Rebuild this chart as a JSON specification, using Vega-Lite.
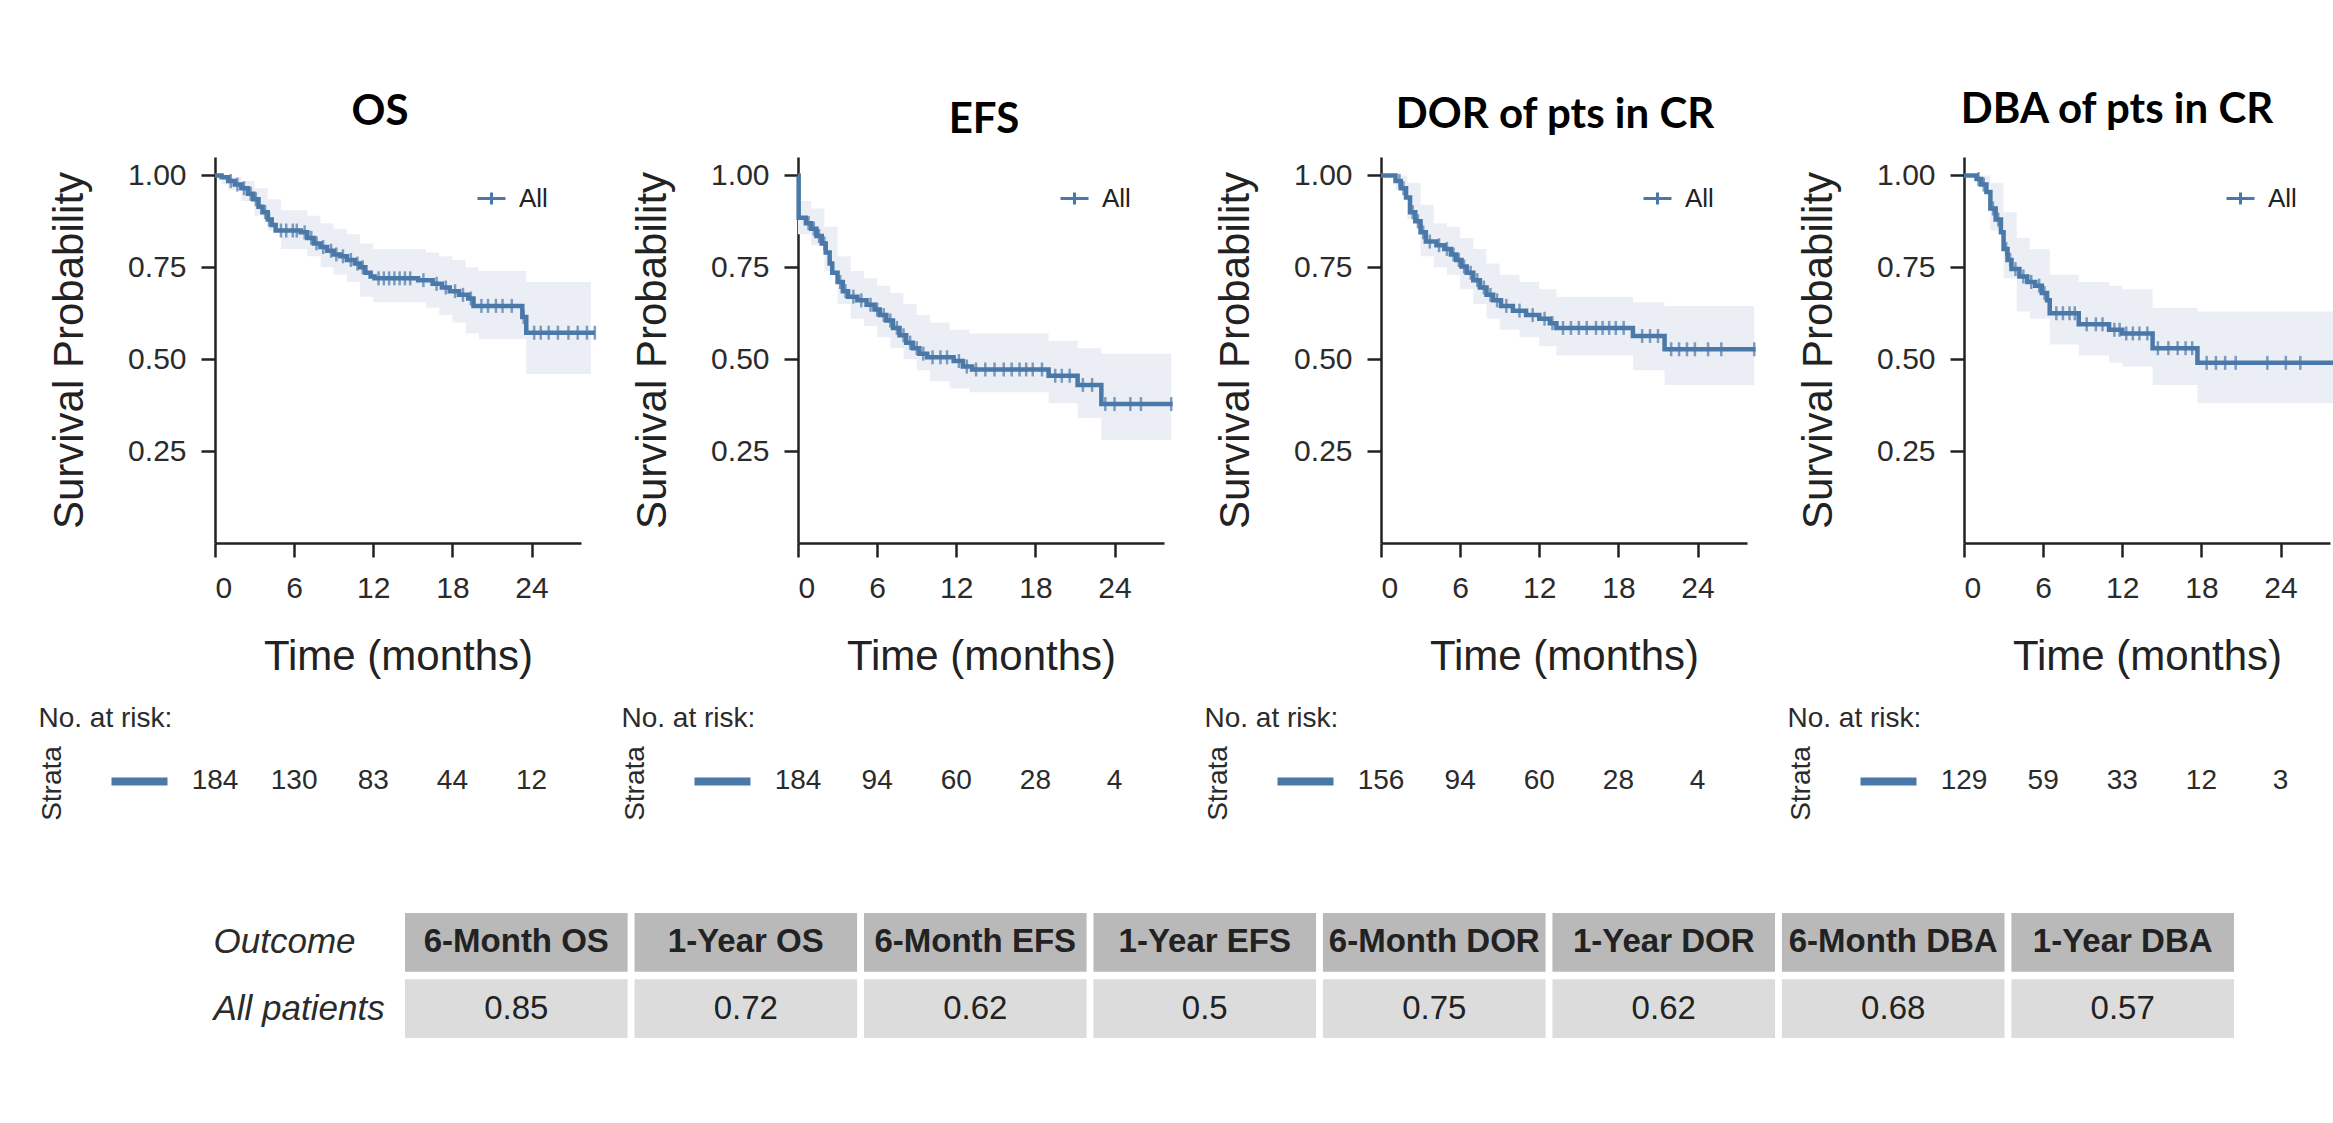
{
  "$schema": "https://vega.github.io/schema/vega-lite/v6.json",
  "background": "white",
  "padding": {"left": 38, "top": 89, "right": 0, "bottom": 40},
  "config": {
    "view": {"stroke": null},
    "font": "Liberation Sans",
    "axis": {"grid": false, "domainColor": "#222222", "domainWidth": 2.5, "tickColor": "#222222", "tickWidth": 2.5, "tickSize": 14, "labelFont": "Liberation Sans", "labelFontSize": 30, "labelColor": "#2b2b2b", "titleFont": "Liberation Sans", "titleFontSize": 42, "titleFontWeight": "normal", "titleColor": "#222222"},
    "title": {"font": "Lato", "fontSize": 42, "fontWeight": "bold", "color": "#000000", "anchor": "middle", "frame": "group", "baseline": "alphabetic"}
  },
  "datasets": {
    "curves": [
      {"p":"OS","t":0,"s":1.0},{"p":"OS","t":0.5,"s":0.995},{"p":"OS","t":1.0,"s":0.985},{"p":"OS","t":1.5,"s":0.975},{"p":"OS","t":2.0,"s":0.965},{"p":"OS","t":2.5,"s":0.95},{"p":"OS","t":2.9,"s":0.935},{"p":"OS","t":3.3,"s":0.915},{"p":"OS","t":3.6,"s":0.9},{"p":"OS","t":4.0,"s":0.88},{"p":"OS","t":4.3,"s":0.865},{"p":"OS","t":4.6,"s":0.85},{"p":"OS","t":6.5,"s":0.845},{"p":"OS","t":7.0,"s":0.83},{"p":"OS","t":7.5,"s":0.815},{"p":"OS","t":8.0,"s":0.805},{"p":"OS","t":8.5,"s":0.795},{"p":"OS","t":9.0,"s":0.785},{"p":"OS","t":9.5,"s":0.78},{"p":"OS","t":10.0,"s":0.77},{"p":"OS","t":10.6,"s":0.76},{"p":"OS","t":11.0,"s":0.75},{"p":"OS","t":11.4,"s":0.735},{"p":"OS","t":11.8,"s":0.725},{"p":"OS","t":12.1,"s":0.72},{"p":"OS","t":15.4,"s":0.715},{"p":"OS","t":16.5,"s":0.705},{"p":"OS","t":17.2,"s":0.695},{"p":"OS","t":17.8,"s":0.685},{"p":"OS","t":18.5,"s":0.675},{"p":"OS","t":19.2,"s":0.665},{"p":"OS","t":19.6,"s":0.645},{"p":"OS","t":23.3,"s":0.615},{"p":"OS","t":23.6,"s":0.572},{"p":"OS","t":28.8,"s":0.572},
      {"p":"EFS","t":0,"s":1.0},{"p":"EFS","t":0.05,"s":0.885},{"p":"EFS","t":0.6,"s":0.87},{"p":"EFS","t":1.0,"s":0.855},{"p":"EFS","t":1.4,"s":0.835},{"p":"EFS","t":1.8,"s":0.815},{"p":"EFS","t":2.1,"s":0.79},{"p":"EFS","t":2.4,"s":0.76},{"p":"EFS","t":2.6,"s":0.735},{"p":"EFS","t":3.0,"s":0.71},{"p":"EFS","t":3.4,"s":0.685},{"p":"EFS","t":3.8,"s":0.67},{"p":"EFS","t":4.5,"s":0.66},{"p":"EFS","t":5.2,"s":0.648},{"p":"EFS","t":5.8,"s":0.635},{"p":"EFS","t":6.2,"s":0.62},{"p":"EFS","t":6.7,"s":0.605},{"p":"EFS","t":7.2,"s":0.585},{"p":"EFS","t":7.7,"s":0.565},{"p":"EFS","t":8.2,"s":0.545},{"p":"EFS","t":8.7,"s":0.53},{"p":"EFS","t":9.2,"s":0.515},{"p":"EFS","t":9.8,"s":0.505},{"p":"EFS","t":11.8,"s":0.495},{"p":"EFS","t":12.5,"s":0.48},{"p":"EFS","t":13.2,"s":0.472},{"p":"EFS","t":19.0,"s":0.455},{"p":"EFS","t":21.2,"s":0.43},{"p":"EFS","t":23.0,"s":0.378},{"p":"EFS","t":28.4,"s":0.378},
      {"p":"DOR","t":0,"s":1.0},{"p":"DOR","t":1.1,"s":0.985},{"p":"DOR","t":1.5,"s":0.965},{"p":"DOR","t":1.9,"s":0.94},{"p":"DOR","t":2.2,"s":0.9},{"p":"DOR","t":2.6,"s":0.875},{"p":"DOR","t":3.0,"s":0.845},{"p":"DOR","t":3.4,"s":0.82},{"p":"DOR","t":4.2,"s":0.81},{"p":"DOR","t":4.8,"s":0.8},{"p":"DOR","t":5.3,"s":0.785},{"p":"DOR","t":5.7,"s":0.77},{"p":"DOR","t":6.1,"s":0.752},{"p":"DOR","t":6.5,"s":0.735},{"p":"DOR","t":7.0,"s":0.715},{"p":"DOR","t":7.5,"s":0.695},{"p":"DOR","t":8.0,"s":0.675},{"p":"DOR","t":8.5,"s":0.66},{"p":"DOR","t":9.1,"s":0.645},{"p":"DOR","t":10.0,"s":0.632},{"p":"DOR","t":11.0,"s":0.62},{"p":"DOR","t":12.0,"s":0.61},{"p":"DOR","t":12.8,"s":0.598},{"p":"DOR","t":13.3,"s":0.585},{"p":"DOR","t":19.1,"s":0.563},{"p":"DOR","t":21.5,"s":0.527},{"p":"DOR","t":28.4,"s":0.527},
      {"p":"DBA","t":0,"s":1.0},{"p":"DBA","t":0.95,"s":0.99},{"p":"DBA","t":1.3,"s":0.975},{"p":"DBA","t":1.7,"s":0.955},{"p":"DBA","t":2.0,"s":0.91},{"p":"DBA","t":2.4,"s":0.88},{"p":"DBA","t":2.8,"s":0.845},{"p":"DBA","t":3.0,"s":0.8},{"p":"DBA","t":3.3,"s":0.77},{"p":"DBA","t":3.6,"s":0.745},{"p":"DBA","t":4.2,"s":0.725},{"p":"DBA","t":4.8,"s":0.71},{"p":"DBA","t":5.4,"s":0.7},{"p":"DBA","t":5.9,"s":0.68},{"p":"DBA","t":6.3,"s":0.66},{"p":"DBA","t":6.5,"s":0.625},{"p":"DBA","t":8.7,"s":0.595},{"p":"DBA","t":11.0,"s":0.58},{"p":"DBA","t":12.0,"s":0.57},{"p":"DBA","t":14.3,"s":0.53},{"p":"DBA","t":17.7,"s":0.49},{"p":"DBA","t":28.8,"s":0.49}
    ],
    "bands": [
      {"p":"OS","t":0,"lo":1.0,"hi":1.0},{"p":"OS","t":0.5,"lo":0.975,"hi":1.0},{"p":"OS","t":1,"lo":0.96,"hi":0.995},{"p":"OS","t":2,"lo":0.93,"hi":0.985},{"p":"OS","t":3,"lo":0.89,"hi":0.965},{"p":"OS","t":4,"lo":0.85,"hi":0.935},{"p":"OS","t":5,"lo":0.8,"hi":0.905},{"p":"OS","t":7,"lo":0.78,"hi":0.89},{"p":"OS","t":8,"lo":0.75,"hi":0.87},{"p":"OS","t":9,"lo":0.73,"hi":0.855},{"p":"OS","t":10,"lo":0.71,"hi":0.84},{"p":"OS","t":11,"lo":0.67,"hi":0.815},{"p":"OS","t":12,"lo":0.655,"hi":0.8},{"p":"OS","t":16,"lo":0.64,"hi":0.79},{"p":"OS","t":17,"lo":0.62,"hi":0.78},{"p":"OS","t":18,"lo":0.6,"hi":0.77},{"p":"OS","t":19,"lo":0.57,"hi":0.75},{"p":"OS","t":20,"lo":0.555,"hi":0.74},{"p":"OS","t":23.6,"lo":0.46,"hi":0.71},{"p":"OS","t":28.5,"lo":0.46,"hi":0.71},
      {"p":"EFS","t":0,"lo":0.84,"hi":0.93},{"p":"EFS","t":1,"lo":0.81,"hi":0.91},{"p":"EFS","t":2,"lo":0.74,"hi":0.86},{"p":"EFS","t":3,"lo":0.65,"hi":0.78},{"p":"EFS","t":4,"lo":0.61,"hi":0.74},{"p":"EFS","t":5,"lo":0.59,"hi":0.72},{"p":"EFS","t":6,"lo":0.56,"hi":0.7},{"p":"EFS","t":7,"lo":0.53,"hi":0.68},{"p":"EFS","t":8,"lo":0.5,"hi":0.65},{"p":"EFS","t":9,"lo":0.47,"hi":0.62},{"p":"EFS","t":10,"lo":0.44,"hi":0.6},{"p":"EFS","t":11.5,"lo":0.42,"hi":0.58},{"p":"EFS","t":13,"lo":0.41,"hi":0.57},{"p":"EFS","t":19,"lo":0.38,"hi":0.55},{"p":"EFS","t":21.2,"lo":0.34,"hi":0.53},{"p":"EFS","t":23,"lo":0.28,"hi":0.515},{"p":"EFS","t":28.3,"lo":0.28,"hi":0.515},
      {"p":"DOR","t":0,"lo":1.0,"hi":1.0},{"p":"DOR","t":1.1,"lo":0.96,"hi":1.0},{"p":"DOR","t":2,"lo":0.88,"hi":0.98},{"p":"DOR","t":3,"lo":0.78,"hi":0.92},{"p":"DOR","t":4,"lo":0.75,"hi":0.87},{"p":"DOR","t":5,"lo":0.73,"hi":0.86},{"p":"DOR","t":6,"lo":0.69,"hi":0.83},{"p":"DOR","t":7,"lo":0.65,"hi":0.8},{"p":"DOR","t":8,"lo":0.61,"hi":0.76},{"p":"DOR","t":9,"lo":0.58,"hi":0.73},{"p":"DOR","t":10.5,"lo":0.56,"hi":0.71},{"p":"DOR","t":12,"lo":0.535,"hi":0.69},{"p":"DOR","t":13.3,"lo":0.51,"hi":0.67},{"p":"DOR","t":19.1,"lo":0.47,"hi":0.655},{"p":"DOR","t":21.5,"lo":0.43,"hi":0.645},{"p":"DOR","t":28.3,"lo":0.43,"hi":0.645},
      {"p":"DBA","t":0,"lo":1.0,"hi":1.0},{"p":"DBA","t":1,"lo":0.97,"hi":1.0},{"p":"DBA","t":2,"lo":0.85,"hi":0.98},{"p":"DBA","t":3,"lo":0.72,"hi":0.9},{"p":"DBA","t":4,"lo":0.63,"hi":0.83},{"p":"DBA","t":5,"lo":0.61,"hi":0.8},{"p":"DBA","t":6.5,"lo":0.54,"hi":0.73},{"p":"DBA","t":8.7,"lo":0.51,"hi":0.71},{"p":"DBA","t":11,"lo":0.49,"hi":0.7},{"p":"DBA","t":12,"lo":0.48,"hi":0.69},{"p":"DBA","t":14.3,"lo":0.43,"hi":0.64},{"p":"DBA","t":17.7,"lo":0.38,"hi":0.63},{"p":"DBA","t":28.8,"lo":0.38,"hi":0.63}
    ],
    "censors": [
      {"p":"OS","t":1.2,"s":0.985},{"p":"OS","t":1.7,"s":0.975},{"p":"OS","t":2.2,"s":0.965},{"p":"OS","t":2.7,"s":0.95},{"p":"OS","t":3.1,"s":0.935},{"p":"OS","t":3.8,"s":0.9},{"p":"OS","t":4.1,"s":0.88},{"p":"OS","t":5.0,"s":0.85},{"p":"OS","t":5.4,"s":0.85},{"p":"OS","t":5.9,"s":0.85},{"p":"OS","t":6.2,"s":0.85},{"p":"OS","t":6.8,"s":0.845},{"p":"OS","t":7.3,"s":0.83},{"p":"OS","t":7.7,"s":0.815},{"p":"OS","t":8.2,"s":0.805},{"p":"OS","t":8.8,"s":0.795},{"p":"OS","t":9.2,"s":0.785},{"p":"OS","t":9.7,"s":0.78},{"p":"OS","t":10.3,"s":0.77},{"p":"OS","t":10.8,"s":0.76},{"p":"OS","t":11.2,"s":0.75},{"p":"OS","t":12.4,"s":0.72},{"p":"OS","t":12.8,"s":0.72},{"p":"OS","t":13.2,"s":0.72},{"p":"OS","t":13.6,"s":0.72},{"p":"OS","t":14.0,"s":0.72},{"p":"OS","t":14.4,"s":0.72},{"p":"OS","t":14.8,"s":0.72},{"p":"OS","t":15.8,"s":0.715},{"p":"OS","t":16.8,"s":0.705},{"p":"OS","t":17.5,"s":0.695},{"p":"OS","t":18.2,"s":0.685},{"p":"OS","t":18.8,"s":0.675},{"p":"OS","t":19.4,"s":0.665},{"p":"OS","t":20.2,"s":0.645},{"p":"OS","t":20.7,"s":0.645},{"p":"OS","t":21.3,"s":0.645},{"p":"OS","t":21.8,"s":0.645},{"p":"OS","t":22.5,"s":0.645},{"p":"OS","t":23.4,"s":0.615},{"p":"OS","t":24.2,"s":0.572},{"p":"OS","t":24.7,"s":0.572},{"p":"OS","t":25.3,"s":0.572},{"p":"OS","t":26.0,"s":0.572},{"p":"OS","t":26.8,"s":0.572},{"p":"OS","t":27.5,"s":0.572},{"p":"OS","t":28.2,"s":0.572},{"p":"OS","t":28.8,"s":0.572},
      {"p":"EFS","t":0.8,"s":0.87},{"p":"EFS","t":1.2,"s":0.855},{"p":"EFS","t":1.6,"s":0.835},{"p":"EFS","t":2.0,"s":0.815},{"p":"EFS","t":3.2,"s":0.71},{"p":"EFS","t":3.6,"s":0.685},{"p":"EFS","t":4.2,"s":0.67},{"p":"EFS","t":4.8,"s":0.66},{"p":"EFS","t":5.5,"s":0.648},{"p":"EFS","t":6.0,"s":0.635},{"p":"EFS","t":6.5,"s":0.62},{"p":"EFS","t":7.0,"s":0.605},{"p":"EFS","t":7.5,"s":0.585},{"p":"EFS","t":8.0,"s":0.565},{"p":"EFS","t":8.5,"s":0.545},{"p":"EFS","t":9.0,"s":0.53},{"p":"EFS","t":9.5,"s":0.515},{"p":"EFS","t":10.2,"s":0.505},{"p":"EFS","t":10.8,"s":0.505},{"p":"EFS","t":11.3,"s":0.505},{"p":"EFS","t":12.2,"s":0.495},{"p":"EFS","t":12.8,"s":0.48},{"p":"EFS","t":13.5,"s":0.472},{"p":"EFS","t":14.2,"s":0.472},{"p":"EFS","t":14.9,"s":0.472},{"p":"EFS","t":15.6,"s":0.472},{"p":"EFS","t":16.2,"s":0.472},{"p":"EFS","t":16.8,"s":0.472},{"p":"EFS","t":17.3,"s":0.472},{"p":"EFS","t":17.8,"s":0.472},{"p":"EFS","t":18.5,"s":0.472},{"p":"EFS","t":19.5,"s":0.455},{"p":"EFS","t":20.0,"s":0.455},{"p":"EFS","t":20.6,"s":0.455},{"p":"EFS","t":21.6,"s":0.43},{"p":"EFS","t":22.3,"s":0.43},{"p":"EFS","t":23.3,"s":0.378},{"p":"EFS","t":24.0,"s":0.378},{"p":"EFS","t":25.2,"s":0.378},{"p":"EFS","t":26.0,"s":0.378},{"p":"EFS","t":28.3,"s":0.378},
      {"p":"DOR","t":1.4,"s":0.985},{"p":"DOR","t":1.7,"s":0.965},{"p":"DOR","t":2.4,"s":0.9},{"p":"DOR","t":2.8,"s":0.875},{"p":"DOR","t":3.2,"s":0.845},{"p":"DOR","t":3.7,"s":0.82},{"p":"DOR","t":4.4,"s":0.81},{"p":"DOR","t":5.0,"s":0.8},{"p":"DOR","t":5.5,"s":0.785},{"p":"DOR","t":5.9,"s":0.77},{"p":"DOR","t":6.3,"s":0.752},{"p":"DOR","t":6.8,"s":0.735},{"p":"DOR","t":7.3,"s":0.715},{"p":"DOR","t":7.8,"s":0.695},{"p":"DOR","t":8.3,"s":0.675},{"p":"DOR","t":8.8,"s":0.66},{"p":"DOR","t":9.5,"s":0.645},{"p":"DOR","t":10.5,"s":0.632},{"p":"DOR","t":11.5,"s":0.62},{"p":"DOR","t":12.4,"s":0.61},{"p":"DOR","t":13.0,"s":0.598},{"p":"DOR","t":13.8,"s":0.585},{"p":"DOR","t":14.4,"s":0.585},{"p":"DOR","t":15.0,"s":0.585},{"p":"DOR","t":15.6,"s":0.585},{"p":"DOR","t":16.3,"s":0.585},{"p":"DOR","t":16.8,"s":0.585},{"p":"DOR","t":17.3,"s":0.585},{"p":"DOR","t":17.8,"s":0.585},{"p":"DOR","t":18.4,"s":0.585},{"p":"DOR","t":19.8,"s":0.563},{"p":"DOR","t":20.4,"s":0.563},{"p":"DOR","t":21.0,"s":0.563},{"p":"DOR","t":22.0,"s":0.527},{"p":"DOR","t":22.6,"s":0.527},{"p":"DOR","t":23.2,"s":0.527},{"p":"DOR","t":23.8,"s":0.527},{"p":"DOR","t":24.8,"s":0.527},{"p":"DOR","t":25.8,"s":0.527},{"p":"DOR","t":28.3,"s":0.527},
      {"p":"DBA","t":1.1,"s":0.99},{"p":"DBA","t":1.5,"s":0.975},{"p":"DBA","t":2.2,"s":0.91},{"p":"DBA","t":2.6,"s":0.88},{"p":"DBA","t":3.2,"s":0.8},{"p":"DBA","t":3.5,"s":0.77},{"p":"DBA","t":3.9,"s":0.745},{"p":"DBA","t":4.5,"s":0.725},{"p":"DBA","t":5.1,"s":0.71},{"p":"DBA","t":5.7,"s":0.7},{"p":"DBA","t":6.1,"s":0.68},{"p":"DBA","t":7.0,"s":0.625},{"p":"DBA","t":7.5,"s":0.625},{"p":"DBA","t":8.0,"s":0.625},{"p":"DBA","t":8.4,"s":0.625},{"p":"DBA","t":9.3,"s":0.595},{"p":"DBA","t":10.0,"s":0.595},{"p":"DBA","t":10.5,"s":0.595},{"p":"DBA","t":11.4,"s":0.58},{"p":"DBA","t":11.8,"s":0.58},{"p":"DBA","t":12.3,"s":0.57},{"p":"DBA","t":12.8,"s":0.57},{"p":"DBA","t":13.3,"s":0.57},{"p":"DBA","t":13.9,"s":0.57},{"p":"DBA","t":14.7,"s":0.53},{"p":"DBA","t":15.5,"s":0.53},{"p":"DBA","t":16.2,"s":0.53},{"p":"DBA","t":16.8,"s":0.53},{"p":"DBA","t":17.3,"s":0.53},{"p":"DBA","t":18.4,"s":0.49},{"p":"DBA","t":19.1,"s":0.49},{"p":"DBA","t":19.8,"s":0.49},{"p":"DBA","t":20.6,"s":0.49},{"p":"DBA","t":23.0,"s":0.49},{"p":"DBA","t":24.4,"s":0.49},{"p":"DBA","t":25.5,"s":0.49}
    ],
    "risk": [
      {"p":"OS","strata":"All","t":0,"n":184},{"p":"OS","strata":"All","t":6,"n":130},{"p":"OS","strata":"All","t":12,"n":83},{"p":"OS","strata":"All","t":18,"n":44},{"p":"OS","strata":"All","t":24,"n":12},
      {"p":"EFS","strata":"All","t":0,"n":184},{"p":"EFS","strata":"All","t":6,"n":94},{"p":"EFS","strata":"All","t":12,"n":60},{"p":"EFS","strata":"All","t":18,"n":28},{"p":"EFS","strata":"All","t":24,"n":4},
      {"p":"DOR","strata":"All","t":0,"n":156},{"p":"DOR","strata":"All","t":6,"n":94},{"p":"DOR","strata":"All","t":12,"n":60},{"p":"DOR","strata":"All","t":18,"n":28},{"p":"DOR","strata":"All","t":24,"n":4},
      {"p":"DBA","strata":"All","t":0,"n":129},{"p":"DBA","strata":"All","t":6,"n":59},{"p":"DBA","strata":"All","t":12,"n":33},{"p":"DBA","strata":"All","t":18,"n":12},{"p":"DBA","strata":"All","t":24,"n":3}
    ],
    "table": [
      {"row":"Outcome","col":"6-Month OS","text":"6-Month OS"},{"row":"Outcome","col":"1-Year OS","text":"1-Year OS"},{"row":"Outcome","col":"6-Month EFS","text":"6-Month EFS"},{"row":"Outcome","col":"1-Year EFS","text":"1-Year EFS"},{"row":"Outcome","col":"6-Month DOR","text":"6-Month DOR"},{"row":"Outcome","col":"1-Year DOR","text":"1-Year DOR"},{"row":"Outcome","col":"6-Month DBA","text":"6-Month DBA"},{"row":"Outcome","col":"1-Year DBA","text":"1-Year DBA"},
      {"row":"All patients","col":"6-Month OS","text":"0.85"},{"row":"All patients","col":"1-Year OS","text":"0.72"},{"row":"All patients","col":"6-Month EFS","text":"0.62"},{"row":"All patients","col":"1-Year EFS","text":"0.5"},{"row":"All patients","col":"6-Month DOR","text":"0.75"},{"row":"All patients","col":"1-Year DOR","text":"0.62"},{"row":"All patients","col":"6-Month DBA","text":"0.68"},{"row":"All patients","col":"1-Year DBA","text":"0.57"}
    ]
  },
  "columns": 4,
  "spacing": {"row": 102, "column": 217},
  "bounds": "flush",
  "align": "each",
  "resolve": {"scale": {"color": "independent"}},
  "concat": [
    {
      "width": 366, "height": 386,
      "title": {"text": "OS", "dx": -18, "offset": 23},
      "layer": [
        {"data": {"name": "bands"}, "transform": [{"filter": "datum.p === 'OS'"}], "mark": {"type": "area", "interpolate": "step-after", "color": "#ebeff5"},
         "encoding": {"x": {"field": "t", "type": "quantitative", "scale": {"domain": [0, 27.75], "nice": false}, "axis": {"title": "Time (months)", "values": [0, 6, 12, 18, 24], "labelPadding": 16, "titlePadding": 33}},
                      "y": {"field": "lo", "type": "quantitative", "scale": {"domain": [0, 1.05], "nice": false}, "axis": {"title": "Survival Probability", "values": [0.25, 0.5, 0.75, 1], "format": ".2f", "labelPadding": 15, "titlePadding": 36}},
                      "y2": {"field": "hi"}}},
        {"data": {"name": "curves"}, "transform": [{"filter": "datum.p === 'OS'"}], "mark": {"type": "line", "interpolate": "step-after", "strokeWidth": 4.5},
         "encoding": {"x": {"field": "t", "type": "quantitative", "axis": {"title": "Time (months)"}}, "y": {"field": "s", "type": "quantitative", "axis": {"title": "Survival Probability"}},
                      "color": {"datum": "All", "type": "nominal", "scale": {"range": ["#4a78a8"]}, "legend": {"orient": "none", "legendX": 261, "legendY": 26, "title": null, "symbolType": "M-1,0H1M0,-0.42V0.42", "symbolSize": 784, "symbolStrokeWidth": 3, "labelFontSize": 26, "labelFont": "Liberation Sans", "labelColor": "#222222", "labelOffset": 12, "padding": 0}}}},
        {"data": {"name": "censors"}, "transform": [{"filter": "datum.p === 'OS'"}], "mark": {"type": "tick", "orient": "vertical", "size": 14, "thickness": 2.5, "color": "#4a78a8"},
         "encoding": {"x": {"field": "t", "type": "quantitative", "axis": {"title": "Time (months)"}}, "y": {"field": "s", "type": "quantitative", "axis": {"title": "Survival Probability"}}}}
      ]
    },
    {
      "width": 366, "height": 386,
      "title": {"text": "EFS", "dx": 3, "offset": 15},
      "layer": [
        {"data": {"name": "bands"}, "transform": [{"filter": "datum.p === 'EFS'"}], "mark": {"type": "area", "interpolate": "step-after", "color": "#ebeff5"},
         "encoding": {"x": {"field": "t", "type": "quantitative", "scale": {"domain": [0, 27.75], "nice": false}, "axis": {"title": "Time (months)", "values": [0, 6, 12, 18, 24], "labelPadding": 16, "titlePadding": 33}},
                      "y": {"field": "lo", "type": "quantitative", "scale": {"domain": [0, 1.05], "nice": false}, "axis": {"title": "Survival Probability", "values": [0.25, 0.5, 0.75, 1], "format": ".2f", "labelPadding": 15, "titlePadding": 36}},
                      "y2": {"field": "hi"}}},
        {"data": {"name": "curves"}, "transform": [{"filter": "datum.p === 'EFS'"}], "mark": {"type": "line", "interpolate": "step-after", "strokeWidth": 4.5},
         "encoding": {"x": {"field": "t", "type": "quantitative", "axis": {"title": "Time (months)"}}, "y": {"field": "s", "type": "quantitative", "axis": {"title": "Survival Probability"}},
                      "color": {"datum": "All", "type": "nominal", "scale": {"range": ["#4a78a8"]}, "legend": {"orient": "none", "legendX": 261, "legendY": 26, "title": null, "symbolType": "M-1,0H1M0,-0.42V0.42", "symbolSize": 784, "symbolStrokeWidth": 3, "labelFontSize": 26, "labelFont": "Liberation Sans", "labelColor": "#222222", "labelOffset": 12, "padding": 0}}}},
        {"data": {"name": "censors"}, "transform": [{"filter": "datum.p === 'EFS'"}], "mark": {"type": "tick", "orient": "vertical", "size": 14, "thickness": 2.5, "color": "#4a78a8"},
         "encoding": {"x": {"field": "t", "type": "quantitative", "axis": {"title": "Time (months)"}}, "y": {"field": "s", "type": "quantitative", "axis": {"title": "Survival Probability"}}}}
      ]
    },
    {
      "width": 366, "height": 386,
      "title": {"text": "DOR of pts in CR", "dx": -9, "offset": 20},
      "layer": [
        {"data": {"name": "bands"}, "transform": [{"filter": "datum.p === 'DOR'"}], "mark": {"type": "area", "interpolate": "step-after", "color": "#ebeff5"},
         "encoding": {"x": {"field": "t", "type": "quantitative", "scale": {"domain": [0, 27.75], "nice": false}, "axis": {"title": "Time (months)", "values": [0, 6, 12, 18, 24], "labelPadding": 16, "titlePadding": 33}},
                      "y": {"field": "lo", "type": "quantitative", "scale": {"domain": [0, 1.05], "nice": false}, "axis": {"title": "Survival Probability", "values": [0.25, 0.5, 0.75, 1], "format": ".2f", "labelPadding": 15, "titlePadding": 36}},
                      "y2": {"field": "hi"}}},
        {"data": {"name": "curves"}, "transform": [{"filter": "datum.p === 'DOR'"}], "mark": {"type": "line", "interpolate": "step-after", "strokeWidth": 4.5},
         "encoding": {"x": {"field": "t", "type": "quantitative", "axis": {"title": "Time (months)"}}, "y": {"field": "s", "type": "quantitative", "axis": {"title": "Survival Probability"}},
                      "color": {"datum": "All", "type": "nominal", "scale": {"range": ["#4a78a8"]}, "legend": {"orient": "none", "legendX": 261, "legendY": 26, "title": null, "symbolType": "M-1,0H1M0,-0.42V0.42", "symbolSize": 784, "symbolStrokeWidth": 3, "labelFontSize": 26, "labelFont": "Liberation Sans", "labelColor": "#222222", "labelOffset": 12, "padding": 0}}}},
        {"data": {"name": "censors"}, "transform": [{"filter": "datum.p === 'DOR'"}], "mark": {"type": "tick", "orient": "vertical", "size": 14, "thickness": 2.5, "color": "#4a78a8"},
         "encoding": {"x": {"field": "t", "type": "quantitative", "axis": {"title": "Time (months)"}}, "y": {"field": "s", "type": "quantitative", "axis": {"title": "Survival Probability"}}}}
      ]
    },
    {
      "width": 366, "height": 386,
      "title": {"text": "DBA of pts in CR", "dx": -30, "offset": 25},
      "layer": [
        {"data": {"name": "bands"}, "transform": [{"filter": "datum.p === 'DBA'"}], "mark": {"type": "area", "interpolate": "step-after", "color": "#ebeff5"},
         "encoding": {"x": {"field": "t", "type": "quantitative", "scale": {"domain": [0, 27.75], "nice": false}, "axis": {"title": "Time (months)", "values": [0, 6, 12, 18, 24], "labelPadding": 16, "titlePadding": 33}},
                      "y": {"field": "lo", "type": "quantitative", "scale": {"domain": [0, 1.05], "nice": false}, "axis": {"title": "Survival Probability", "values": [0.25, 0.5, 0.75, 1], "format": ".2f", "labelPadding": 15, "titlePadding": 36}},
                      "y2": {"field": "hi"}}},
        {"data": {"name": "curves"}, "transform": [{"filter": "datum.p === 'DBA'"}], "mark": {"type": "line", "interpolate": "step-after", "strokeWidth": 4.5},
         "encoding": {"x": {"field": "t", "type": "quantitative", "axis": {"title": "Time (months)"}}, "y": {"field": "s", "type": "quantitative", "axis": {"title": "Survival Probability"}},
                      "color": {"datum": "All", "type": "nominal", "scale": {"range": ["#4a78a8"]}, "legend": {"orient": "none", "legendX": 261, "legendY": 26, "title": null, "symbolType": "M-1,0H1M0,-0.42V0.42", "symbolSize": 784, "symbolStrokeWidth": 3, "labelFontSize": 26, "labelFont": "Liberation Sans", "labelColor": "#222222", "labelOffset": 12, "padding": 0}}}},
        {"data": {"name": "censors"}, "transform": [{"filter": "datum.p === 'DBA'"}], "mark": {"type": "tick", "orient": "vertical", "size": 14, "thickness": 2.5, "color": "#4a78a8"},
         "encoding": {"x": {"field": "t", "type": "quantitative", "axis": {"title": "Time (months)"}}, "y": {"field": "s", "type": "quantitative", "axis": {"title": "Survival Probability"}}}}
      ]
    },
    {
      "width": 366, "height": 166,
      "data": {"name": "risk"},
      "transform": [{"filter": "datum.p === 'OS'"}],
      "mark": {"type": "text", "fontSize": 28, "color": "#2b2b2b", "baseline": "middle"},
      "encoding": {
        "x": {"field": "t", "type": "quantitative", "scale": {"domain": [0, 27.75], "nice": false}, "axis": {"orient": "top", "domain": false, "ticks": false, "labels": false, "title": "No. at risk:", "titleX": -177, "titleY": 81, "titleAlign": "left", "titleBaseline": "alphabetic", "titleFontSize": 28, "titleAngle": 0, "titleColor": "#2b2b2b"}},
        "y": {"field": "strata", "type": "nominal", "scale": {"align": 0.819}, "axis": {"orient": "left", "offset": 48, "tickSize": 56, "tickWidth": 8, "tickColor": "#4a78a8", "domain": false, "labels": false, "title": "Strata", "titleX": -115, "titleY": 138, "titleAngle": -90, "titleAlign": "center", "titleBaseline": "middle", "titleFontSize": 28, "titleColor": "#2b2b2b"}},
        "text": {"field": "n", "type": "quantitative"}
      }
    },
    {
      "width": 366, "height": 166,
      "data": {"name": "risk"},
      "transform": [{"filter": "datum.p === 'EFS'"}],
      "mark": {"type": "text", "fontSize": 28, "color": "#2b2b2b", "baseline": "middle"},
      "encoding": {
        "x": {"field": "t", "type": "quantitative", "scale": {"domain": [0, 27.75], "nice": false}, "axis": {"orient": "top", "domain": false, "ticks": false, "labels": false, "title": "No. at risk:", "titleX": -177, "titleY": 81, "titleAlign": "left", "titleBaseline": "alphabetic", "titleFontSize": 28, "titleAngle": 0, "titleColor": "#2b2b2b"}},
        "y": {"field": "strata", "type": "nominal", "scale": {"align": 0.819}, "axis": {"orient": "left", "offset": 48, "tickSize": 56, "tickWidth": 8, "tickColor": "#4a78a8", "domain": false, "labels": false, "title": "Strata", "titleX": -115, "titleY": 138, "titleAngle": -90, "titleAlign": "center", "titleBaseline": "middle", "titleFontSize": 28, "titleColor": "#2b2b2b"}},
        "text": {"field": "n", "type": "quantitative"}
      }
    },
    {
      "width": 366, "height": 166,
      "data": {"name": "risk"},
      "transform": [{"filter": "datum.p === 'DOR'"}],
      "mark": {"type": "text", "fontSize": 28, "color": "#2b2b2b", "baseline": "middle"},
      "encoding": {
        "x": {"field": "t", "type": "quantitative", "scale": {"domain": [0, 27.75], "nice": false}, "axis": {"orient": "top", "domain": false, "ticks": false, "labels": false, "title": "No. at risk:", "titleX": -177, "titleY": 81, "titleAlign": "left", "titleBaseline": "alphabetic", "titleFontSize": 28, "titleAngle": 0, "titleColor": "#2b2b2b"}},
        "y": {"field": "strata", "type": "nominal", "scale": {"align": 0.819}, "axis": {"orient": "left", "offset": 48, "tickSize": 56, "tickWidth": 8, "tickColor": "#4a78a8", "domain": false, "labels": false, "title": "Strata", "titleX": -115, "titleY": 138, "titleAngle": -90, "titleAlign": "center", "titleBaseline": "middle", "titleFontSize": 28, "titleColor": "#2b2b2b"}},
        "text": {"field": "n", "type": "quantitative"}
      }
    },
    {
      "width": 366, "height": 166,
      "data": {"name": "risk"},
      "transform": [{"filter": "datum.p === 'DBA'"}],
      "mark": {"type": "text", "fontSize": 28, "color": "#2b2b2b", "baseline": "middle"},
      "encoding": {
        "x": {"field": "t", "type": "quantitative", "scale": {"domain": [0, 27.75], "nice": false}, "axis": {"orient": "top", "domain": false, "ticks": false, "labels": false, "title": "No. at risk:", "titleX": -177, "titleY": 81, "titleAlign": "left", "titleBaseline": "alphabetic", "titleFontSize": 28, "titleAngle": 0, "titleColor": "#2b2b2b"}},
        "y": {"field": "strata", "type": "nominal", "scale": {"align": 0.819}, "axis": {"orient": "left", "offset": 48, "tickSize": 56, "tickWidth": 8, "tickColor": "#4a78a8", "domain": false, "labels": false, "title": "Strata", "titleX": -115, "titleY": 138, "titleAngle": -90, "titleAlign": "center", "titleBaseline": "middle", "titleFontSize": 28, "titleColor": "#2b2b2b"}},
        "text": {"field": "n", "type": "quantitative"}
      }
    },
    {
      "width": 366, "height": 125,
      "data": {"name": "table"},
      "encoding": {
        "x": {"field": "col", "type": "nominal", "sort": ["6-Month OS", "1-Year OS", "6-Month EFS", "1-Year EFS", "6-Month DOR", "1-Year DOR", "6-Month DBA", "1-Year DBA"], "scale": {"type": "band", "range": [0, 2019], "paddingInner": 0.03, "paddingOuter": 0.414, "align": 1}, "axis": null},
        "y": {"field": "row", "type": "nominal", "sort": ["Outcome", "All patients"], "scale": {"type": "band", "paddingInner": 0.11, "paddingOuter": 0}, "axis": {"domain": false, "ticks": false, "labelAlign": "left", "labelPadding": 2, "labelFontSize": 35, "labelFontStyle": "italic", "labelColor": "#2b2b2b", "title": null}}
      },
      "layer": [
        {"transform": [{"filter": "datum.row === 'Outcome'"}], "mark": {"type": "rect", "color": "#b9b9b9"}},
        {"transform": [{"filter": "datum.row === 'All patients'"}], "mark": {"type": "rect", "color": "#dcdcdc"}},
        {"transform": [{"filter": "datum.row === 'Outcome'"}], "mark": {"type": "text", "fontSize": 33, "fontWeight": "bold", "color": "#222222"}, "encoding": {"text": {"field": "text"}}},
        {"transform": [{"filter": "datum.row === 'All patients'"}], "mark": {"type": "text", "fontSize": 33, "color": "#222222"}, "encoding": {"text": {"field": "text"}}}
      ]
    }
  ]
}
